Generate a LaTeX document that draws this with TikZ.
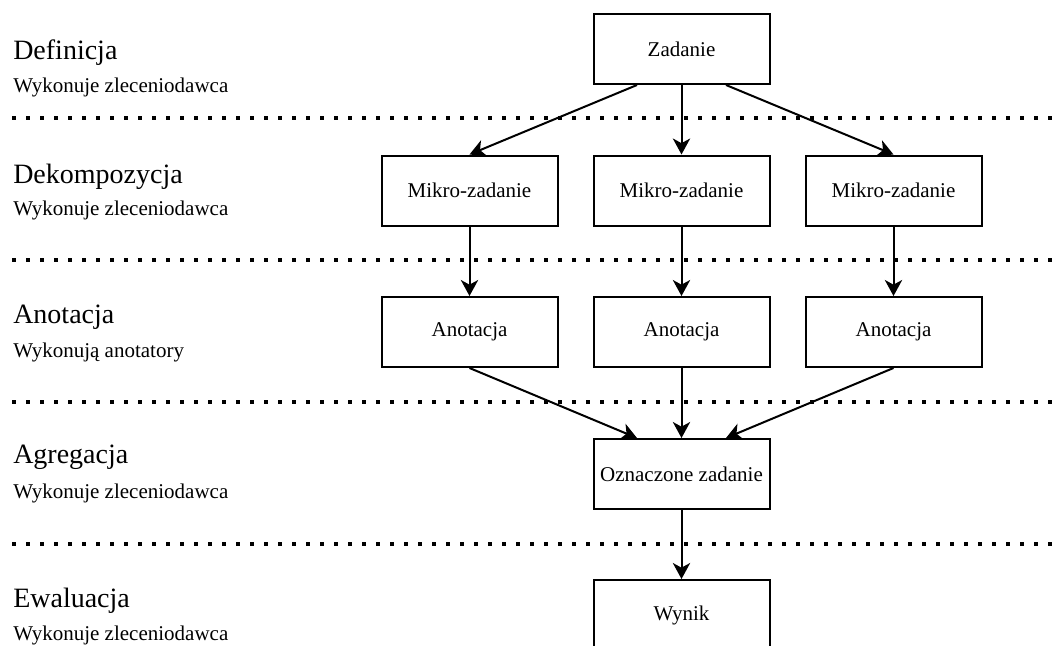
\documentclass[tikz,border=0pt]{standalone}
\usepackage{fontspec}
\setmainfont{Liberation Serif}
\usetikzlibrary{arrows.meta,calc}
\begin{document}
\begin{tikzpicture}[x=0.75pt,y=-0.75pt,
  stagebox/.style={draw,line width=1.5pt,minimum width=132pt,minimum height=52.5pt,inner sep=0pt,font=\fontsize{15.75pt}{18pt}\selectfont},
  flow/.style={line width=1.5pt,-{Stealth[length=12pt,width=13pt,inset=3.5pt]}},
  sep/.style={line width=3pt,dash pattern=on 3pt off 7.5pt},
  title/.style={anchor=base west,inner sep=0pt,font=\fontsize{21pt}{24pt}\selectfont},
  sub/.style={anchor=base west,inner sep=0pt,font=\fontsize{15.75pt}{18pt}\selectfont}]
\useasboundingbox (0,0) rectangle (1058,646);
\clip (0,0) rectangle (1058,646);
\fill[white] (0,0) rectangle (1058,646);

% separators
\foreach \yy/\nm in {118/s1,260/s2,402/s3,544/s4}{
  \coordinate (\nm a) at (12,\yy);
  \coordinate (\nm b) at (1062,\yy);
  \draw[sep] (\nm a) -- (\nm b);
}

% left labels
\node[title] (t1) at (13,60) {Definicja};
\node[sub]   (u1) at (13,92) {Wykonuje zleceniodawca};
\node[title] (t2) at (13,183) {Dekompozycja};
\node[sub]   (u2) at (13,215) {Wykonuje zleceniodawca};
\node[title] (t3) at (13,323) {Anotacja};
\node[sub]   (u3) at (13,357) {Wykonują anotatory};
\node[title] (t4) at (13,463) {Agregacja};
\node[sub]   (u4) at (13,498) {Wykonuje zleceniodawca};
\node[title] (t5) at (13,607) {Ewaluacja};
\node[sub]   (u5) at (13,640) {Wykonuje zleceniodawca};

% boxes
\node[stagebox] (z) at (681.5,49) {Zadanie};
\node[stagebox] (m1) at (469.5,190.5) {Mikro-zadanie};
\node[stagebox] (m2) at (681.5,190.5) {Mikro-zadanie};
\node[stagebox] (m3) at (893.5,190.5) {Mikro-zadanie};
\node[stagebox] (a1) at (469.5,332) {Anotacja};
\node[stagebox] (a2) at (681.5,332) {Anotacja};
\node[stagebox] (a3) at (893.5,332) {Anotacja};
\node[stagebox] (o) at (681.5,474) {Oznaczone zadanie};
\node[stagebox] (w) at (681.5,615) {Wynik};

% connectors
\draw[flow] ($(z.south west)!0.25!(z.south east)$) -- (m1.north);
\draw[flow] (z.south) -- (m2.north);
\draw[flow] ($(z.south west)!0.75!(z.south east)$) -- (m3.north);
\draw[flow] (m1.south) -- (a1.north);
\draw[flow] (m2.south) -- (a2.north);
\draw[flow] (m3.south) -- (a3.north);
\draw[flow] (a1.south) -- ($(o.north west)!0.25!(o.north east)$);
\draw[flow] (a2.south) -- (o.north);
\draw[flow] (a3.south) -- ($(o.north west)!0.75!(o.north east)$);
\draw[flow] (o.south) -- (w.north);
\end{tikzpicture}
\end{document}
